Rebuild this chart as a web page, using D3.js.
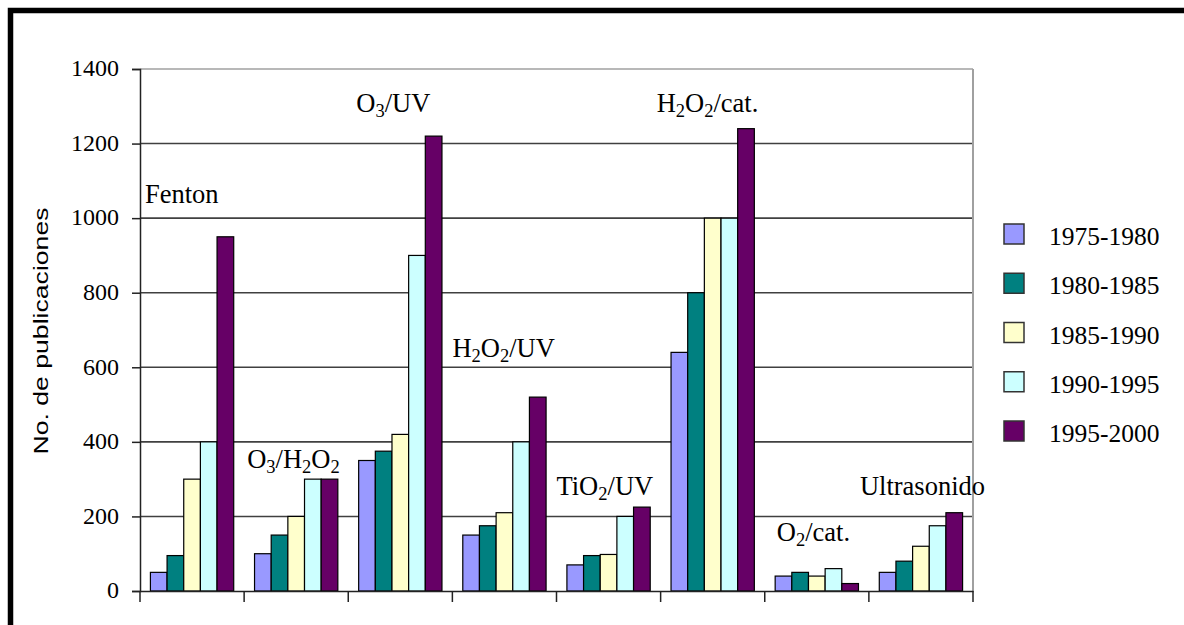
<!DOCTYPE html>
<html>
<head>
<meta charset="utf-8">
<script src="https://cdn.jsdelivr.net/npm/d3@7"></script>
<style>
  body { margin: 0; background: #fff; }
  svg { display: block; }
  text { fill: #000; }
  .serif { font-family: "Liberation Serif", "Times New Roman", serif; }
</style>
</head>
<body>
<div id="chart"></div>
<script>
// data
var categories = ["Fenton", "O3/H2O2", "O3/UV", "H2O2/UV", "TiO2/UV", "H2O2/cat.", "O2/cat.", "Ultrasonido"];
var periods = ["1975-1980", "1980-1985", "1985-1990", "1990-1995", "1995-2000"];
var s1975 = [50, 100, 350, 150, 70, 640, 40, 50];
var s1980 = [95, 150, 375, 175, 95, 800, 50, 80];
var s1985 = [300, 200, 420, 210, 98, 1000, 40, 120];
var s1990 = [400, 300, 900, 400, 200, 1000, 60, 175];
var s1995 = [950, 300, 1220, 520, 225, 1240, 20, 210];
var yTicks = [0, 200, 400, 600, 800, 1000, 1200, 1400];
var colors = ["#9999ff", "#008080", "#ffffcc", "#ccffff", "#660066"];

var series = [s1975, s1980, s1985, s1990, s1995];

var W = 1184, H = 625;
var svg = d3.select("#chart").append("svg").attr("width", W).attr("height", H);

// outer frame (runs off the right and bottom edges)
svg.append("rect")
  .attr("x", 10.5).attr("y", 10.5)
  .attr("width", 1300).attr("height", 800)
  .attr("fill", "none").attr("stroke", "#000").attr("stroke-width", 5.5);

var x0 = d3.scaleBand().domain(categories).range([140, 973]);
var x1 = d3.scaleBand().domain(periods)
  .range([x0.bandwidth() * 0.1, x0.bandwidth() * 0.9]);
var y = d3.scaleLinear().domain([0, 1400]).range([591, 69]);

// gridlines
svg.append("g")
  .selectAll("line")
  .data(yTicks.filter(function(d) { return d > 0; }))
  .enter().append("line")
  .attr("x1", 140).attr("x2", 973)
  .attr("y1", function(d) { return y(d); })
  .attr("y2", function(d) { return y(d); })
  .attr("stroke", function(d) { return d === 1400 ? "#a0a0a0" : "#404040"; })
  .attr("stroke-width", 1.6);

// right border of plot
svg.append("line")
  .attr("x1", 973).attr("x2", 973).attr("y1", y(1400)).attr("y2", y(0))
  .attr("stroke", "#a0a0a0").attr("stroke-width", 2);

// bars
var groups = svg.append("g").selectAll("g")
  .data(categories)
  .enter().append("g")
  .attr("transform", function(d) { return "translate(" + x0(d) + ",0)"; });

groups.selectAll("rect")
  .data(function(d, i) {
    return periods.map(function(p, j) { return { p: p, v: series[j][i], c: colors[j] }; });
  })
  .enter().append("rect")
  .attr("x", function(d) { return x1(d.p); })
  .attr("width", x1.bandwidth())
  .attr("y", function(d) { return y(d.v); })
  .attr("height", function(d) { return y(0) - y(d.v); })
  .attr("fill", function(d) { return d.c; })
  .attr("stroke", "#000")
  .attr("stroke-width", 1.2);

// y axis
var yAxis = d3.axisLeft(y).tickValues(yTicks).tickFormat(d3.format("d"))
  .tickSize(8).tickPadding(13);
var ya = svg.append("g").attr("transform", "translate(140,0)").call(yAxis)
  .attr("font-family", null).attr("font-size", null);
ya.select(".domain").attr("stroke", "#222").attr("stroke-width", 1.5);
ya.selectAll(".tick line").attr("stroke", "#222").attr("stroke-width", 1.5);
ya.selectAll(".tick text")
  .attr("class", "serif")
  .style("font-size", "24px").attr("fill", "#000").attr("dy", "0.28em");

// x axis (category separators only)
var xAxis = d3.axisBottom(x0).tickSize(0).tickFormat("");
var xa = svg.append("g").attr("transform", "translate(0," + y(0) + ")").call(xAxis);
xa.select(".domain").attr("stroke", "#222").attr("stroke-width", 1.5);
xa.selectAll(".tick").remove();
svg.append("g").selectAll("line")
  .data(categories.concat(["end"]))
  .enter().append("line")
  .attr("x1", function(d, i) { return 140 + i * x0.step(); })
  .attr("x2", function(d, i) { return 140 + i * x0.step(); })
  .attr("y1", y(0)).attr("y2", y(0) + 11)
  .attr("stroke", "#222").attr("stroke-width", 1.5);

// y title
svg.append("text")
  .attr("transform", "translate(48,331) rotate(-90)")
  .attr("text-anchor", "middle")
  .style("font-family", "'Liberation Sans', Arial, sans-serif")
  .style("font-size", "21px")
  .attr("textLength", 247)
  .attr("lengthAdjust", "spacingAndGlyphs")
  .text("No. de publicaciones");

// category labels, digits set as subscripts
var labelPlace = [[5, 203], [3, 468], [8, 112], [0, 357], [0, 495], [-4, 112], [12, 541], [-9, 495]];
categories.forEach(function(name, i) {
  var t = svg.append("text")
    .attr("class", "serif")
    .attr("x", x0(name) + labelPlace[i][0])
    .attr("y", labelPlace[i][1])
    .style("font-size", "26.5px");
  var parts = name.match(/\d+|\D+/g);
  var down = false;
  parts.forEach(function(p) {
    var sub = /\d/.test(p);
    var ts = t.append("tspan").text(p);
    if (sub) { ts.style("font-size", "18.5px").attr("dy", 5); down = true; }
    else if (down) { ts.attr("dy", -5); down = false; }
  });
});

// legend
var leg = svg.append("g").selectAll("g")
  .data(periods)
  .enter().append("g")
  .attr("transform", function(d, i) { return "translate(1004," + (224 + i * 49.25) + ")"; });
leg.append("rect")
  .attr("width", 20).attr("height", 20)
  .attr("fill", function(d, i) { return colors[i]; })
  .attr("stroke", "#333").attr("stroke-width", 1.5);
leg.append("text")
  .attr("class", "serif")
  .attr("x", 45).attr("y", 21)
  .style("font-size", "25.5px")
  .text(function(d) { return d; });
</script>
</body>
</html>
